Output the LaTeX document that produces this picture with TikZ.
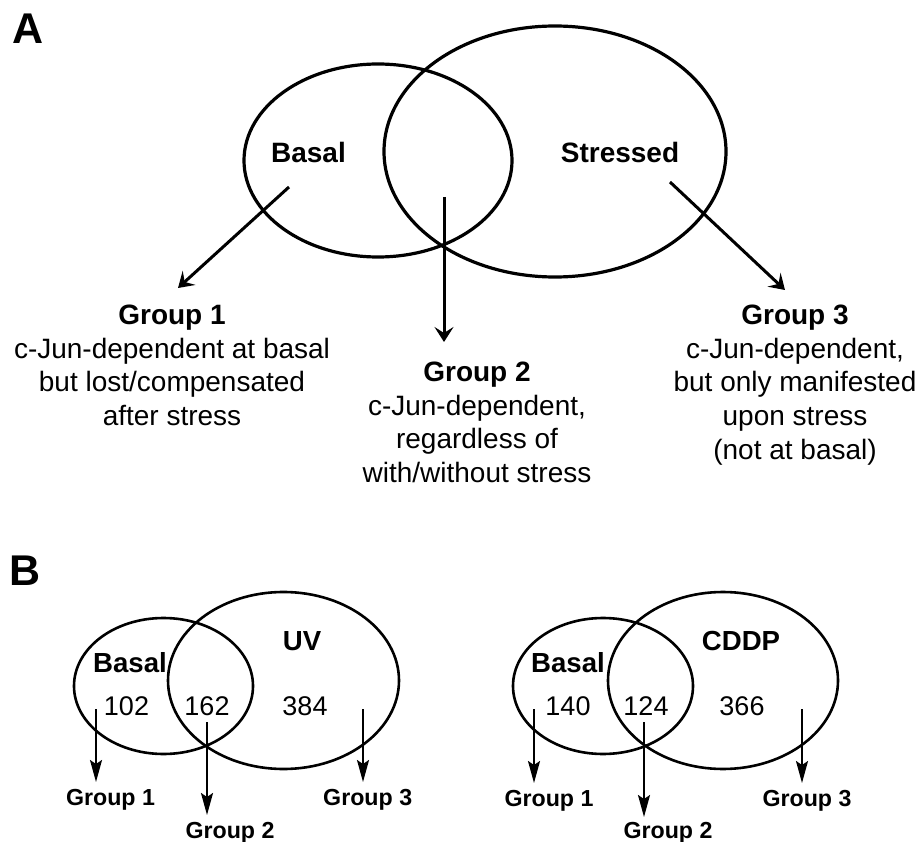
\documentclass[tikz,border=0pt]{standalone}
\usepackage{fontspec}
\setmainfont{Liberation Sans}
\usetikzlibrary{shapes.geometric,arrows.meta}
\begin{document}
\begin{tikzpicture}[x=1pt,y=-1pt,
  venA/.style={ellipse,draw,line width=3.2pt,inner sep=0pt},
  venB/.style={ellipse,draw,line width=2.6pt,inner sep=0pt},
  arrA/.style={line width=3pt,-{Stealth[length=15pt,width=19pt,inset=6pt]}},
  arrB/.style={line width=2pt,-{Stealth[length=22pt,width=12pt,inset=4pt]}},
  lblA/.style={font=\fontsize{28}{33.8}\selectfont\bfseries,inner sep=0pt,anchor=base},
  desc/.style={font=\fontsize{28}{33.8}\selectfont,align=center,inner sep=0pt,anchor=north},
  panel/.style={font=\fontsize{43}{50}\selectfont\bfseries,inner sep=0pt,anchor=base west},
  lblB/.style={font=\fontsize{27.6}{32}\selectfont\bfseries,inner sep=0pt,anchor=base},
  numB/.style={font=\fontsize{27}{32}\selectfont,inner sep=0pt,anchor=base},
  grpB/.style={font=\fontsize{23.2}{28}\selectfont\bfseries,inner sep=0pt,anchor=base},
]
\useasboundingbox (0,0) rectangle (924,842);

% ---------- Panel A ----------
\node[panel] (labA) at (12,44) {A};
\node[venA,minimum width=268pt,minimum height=193pt] (basalA) at (378,160.5) {};
\node[venA,minimum width=342pt,minimum height=251pt] (stressA) at (555,151.5) {};
\node[lblA] (basalAT) at (308.5,163) {Basal};
\node[lblA] (stressAT) at (620,163) {Stressed};

\coordinate (a1s) at (289,187);
\coordinate (a1e) at (178,288);
\coordinate (a2s) at (444,197);
\coordinate (a2e) at (444,342);
\coordinate (a3s) at (670,182);
\coordinate (a3e) at (785,290);
\draw[arrA] (a1s) -- (a1e);
\draw[arrA] (a2s) -- (a2e);
\draw[arrA] (a3s) -- (a3e);

\node[desc] (g1A) at (172,304.6) {\textbf{Group 1}\\c-Jun-dependent at basal\\but lost/compensated\\after stress};
\node[desc] (g2A) at (477,361.6) {\textbf{Group 2}\\c-Jun-dependent,\\regardless of\\with/without stress};
\node[desc] (g3A) at (795,304.6) {\textbf{Group 3}\\c-Jun-dependent,\\but only manifested\\upon stress\\(not at basal)};

% ---------- Panel B ----------
\node[panel] (labB) at (9,585) {B};

% left (UV)
\node[venB,minimum width=179pt,minimum height=136pt] (basalB1) at (163.5,686) {};
\node[venB,minimum width=231pt,minimum height=177pt] (uv) at (283.5,680.5) {};
\node[lblB] (basalB1T) at (130,672) {Basal};
\node[lblB] (uvT) at (302,650) {UV};
\node[numB] (n102) at (126.5,715) {102};
\node[numB] (n162) at (207,715) {162};
\node[numB] (n384) at (305,715) {384};
\coordinate (b1s) at (96,709);  \coordinate (b1e) at (96,782);
\coordinate (b2s) at (207,722); \coordinate (b2e) at (207,815);
\coordinate (b3s) at (363,709); \coordinate (b3e) at (363,782);
\draw[arrB] (b1s) -- (b1e);
\draw[arrB] (b2s) -- (b2e);
\draw[arrB] (b3s) -- (b3e);
\node[grpB] (g1B1) at (110.5,805) {Group 1};
\node[grpB] (g2B1) at (230,838.6) {Group 2};
\node[grpB] (g3B1) at (367.7,805) {Group 3};

% right (CDDP)
\node[venB,minimum width=180pt,minimum height=136pt] (basalB2) at (603,686) {};
\node[venB,minimum width=230pt,minimum height=177pt] (cddp) at (723,680.5) {};
\node[lblB] (basalB2T) at (568,672) {Basal};
\node[lblB] (cddpT) at (741,650) {CDDP};
\node[numB] (n140) at (568,715) {140};
\node[numB] (n124) at (646,715) {124};
\node[numB] (n366) at (742,715) {366};
\coordinate (c1s) at (534,709); \coordinate (c1e) at (534,783);
\coordinate (c2s) at (644,722); \coordinate (c2e) at (644,817);
\coordinate (c3s) at (802,709); \coordinate (c3e) at (802,783);
\draw[arrB] (c1s) -- (c1e);
\draw[arrB] (c2s) -- (c2e);
\draw[arrB] (c3s) -- (c3e);
\node[grpB] (g1B2) at (549,806) {Group 1};
\node[grpB] (g2B2) at (668,838.6) {Group 2};
\node[grpB] (g3B2) at (807,806) {Group 3};
\end{tikzpicture}
\end{document}
